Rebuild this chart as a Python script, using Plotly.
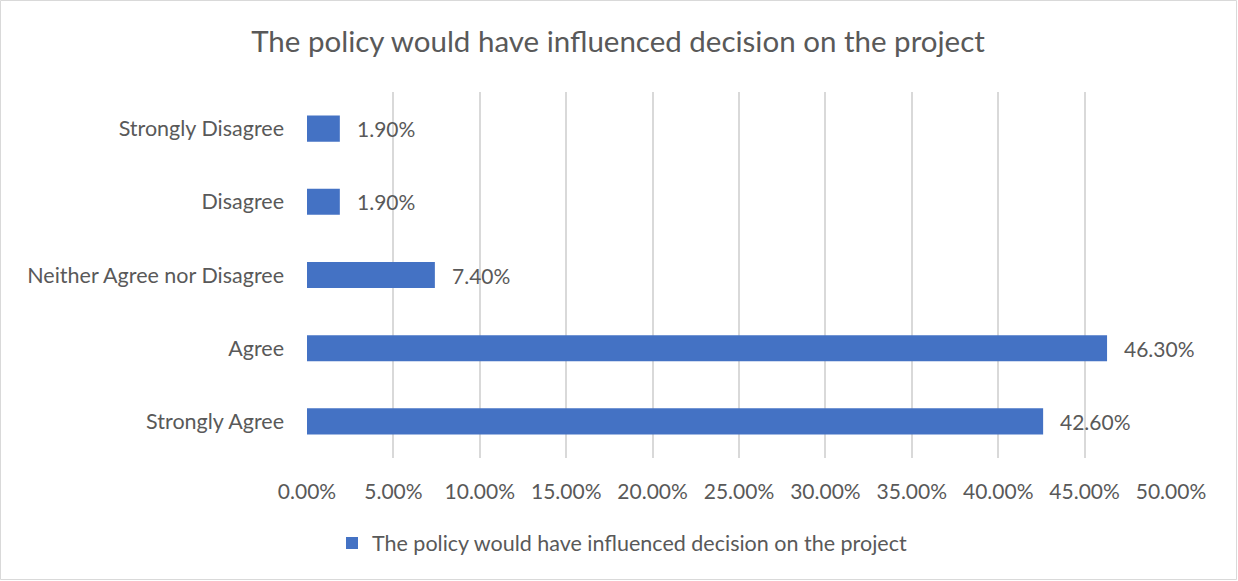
import plotly.graph_objects as go

categories = ["Strongly Agree", "Agree", "Neither Agree nor Disagree", "Disagree", "Strongly Disagree"]
values = [42.6, 46.3, 7.4, 1.9, 1.9]
series_name = "The policy would have influenced decision on the project"
tick_vals = [0, 5, 10, 15, 20, 25, 30, 35, 40, 45, 50]
tick_text = ["%.2f%%" % v for v in tick_vals]

W, H = 1238, 581
L, R, T, B = 307, 67, 92, 123
FONT = "Lato"
GREY = "#595959"
FS = 22

fig = go.Figure()
fig.add_trace(go.Bar(
    y=categories, x=values, orientation="h", name=series_name,
    marker=dict(color="#4472C4", line=dict(width=0)),
    cliponaxis=False,
))
for c, v in zip(categories, values):
    fig.add_annotation(x=v, y=c, text="%.2f%%" % v, showarrow=False,
                       xanchor="left", yanchor="middle", xshift=15,
                       font=dict(family=FONT, size=FS - 1, color=GREY))

pw, ph = W - L - R, H - T - B
fig.update_layout(
    width=W, height=H,
    margin=dict(l=L, r=R, t=T, b=B, autoexpand=False),
    paper_bgcolor="white", plot_bgcolor="white",
    bargap=0.644,
    title=dict(text=series_name, x=(618 - L) / pw, xanchor="center", xref="paper",
               y=1 - 42 / H, yanchor="middle", yref="container",
               font=dict(family=FONT, size=29.5, color=GREY)),
    xaxis=dict(range=[0, 50], tickvals=tick_vals, ticktext=tick_text,
               showgrid=True, gridcolor="#D9D9D9", gridwidth=1.5,
               zeroline=False, showline=False, ticks="",
               ticklabelstandoff=19,
               tickfont=dict(family=FONT, size=FS - 1, color=GREY)),
    yaxis=dict(showgrid=False, zeroline=False, showline=False, ticks="",
               ticklabelstandoff=22,
               tickfont=dict(family=FONT, size=FS - 0.5, color=GREY)),
    legend=dict(orientation="h", x=(622 - L) / pw, xanchor="center", xref="paper",
                y=-(543 - (T + ph)) / ph, yanchor="middle",
                font=dict(family=FONT, size=FS - 0.5, color=GREY),
                itemwidth=30),
    showlegend=True,
    shapes=[dict(type="rect", xref="paper", yref="paper",
                 x0=(0.5 - L) / pw, x1=(W - 1.5 - L) / pw,
                 y0=(T + ph - (H - 1.5)) / ph, y1=(T + ph - 0.5) / ph,
                 line=dict(color="#D9D9D9", width=1), fillcolor="rgba(0,0,0,0)",
                 layer="below")],
)
fig.write_html("out.html", config={"displayModeBar": False},
               post_script="document.body.style.margin='0';document.body.style.overflow='hidden';")
